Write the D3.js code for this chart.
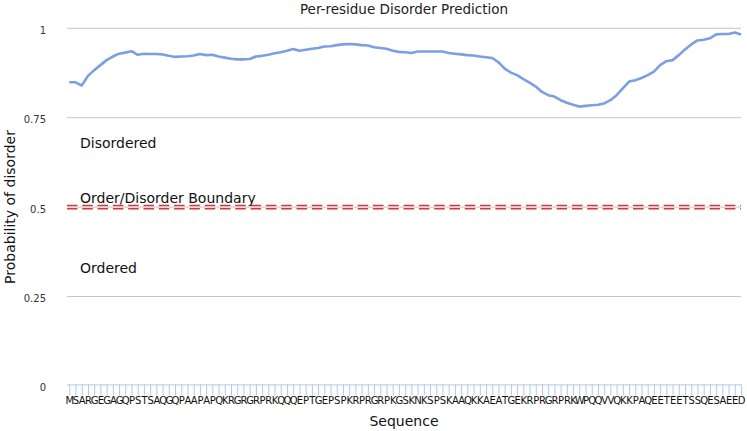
<!DOCTYPE html>
<html>
<head>
<meta charset="utf-8">
<script src="https://cdn.jsdelivr.net/npm/d3@7"></script>
<style>
  html, body { margin: 0; padding: 0; background: #fff; }
  svg { display: block; font-family: "DejaVu Sans", sans-serif; }
</style>
</head>
<body>
<svg id="chart" width="747" height="431"></svg>
<script>
const sequence = "MSARGEGAGQPSTSAQGQPAAPAPQKRGRGRPRKQQQEPTGEPSPKRPRGRPKGSKNKSPSKAAQKKAEATGEKRPRGRPRKWPQQVVQKKPAQEETEETSSQESAEED".split("");
const disorder = [
  0.849, 0.849, 0.840, 0.867, 0.883, 0.897, 0.911, 0.921, 0.929, 0.932,
  0.936, 0.926, 0.929, 0.928, 0.928, 0.927, 0.923, 0.920, 0.921, 0.922,
  0.924, 0.928, 0.925, 0.926, 0.921, 0.918, 0.915, 0.913, 0.913, 0.914,
  0.921, 0.923, 0.926, 0.930, 0.933, 0.937, 0.942, 0.937, 0.940, 0.943,
  0.945, 0.949, 0.950, 0.953, 0.955, 0.956, 0.955, 0.953, 0.952, 0.947,
  0.945, 0.943, 0.937, 0.934, 0.933, 0.931, 0.935, 0.935, 0.935, 0.935,
  0.935, 0.931, 0.929, 0.927, 0.925, 0.924, 0.921, 0.919, 0.917, 0.905,
  0.887, 0.876, 0.869, 0.858, 0.848, 0.837, 0.822, 0.813, 0.809, 0.799,
  0.792, 0.786, 0.781, 0.783, 0.785, 0.786, 0.790, 0.799, 0.813, 0.832,
  0.851, 0.855, 0.861, 0.869, 0.879, 0.897, 0.908, 0.911, 0.925, 0.941,
  0.955, 0.966, 0.968, 0.972, 0.983, 0.984, 0.984, 0.988, 0.983
];
const yTicks = [0, 0.25, 0.5, 0.75, 1];
const yTickLabels = ["0", "0.25", "0.5", "0.75", "1"];
const gridValues = [0.25, 0.5, 0.75, 1];
const boundary = 0.5;
const regionLabels = [
  { text: "Disordered", value: 0.665 },
  { text: "Order/Disorder Boundary", value: 0.512 },
  { text: "Ordered", value: 0.316 }
];

const svg = d3.select("#chart");
const plotLeft = 67, plotRight = 741, plotTop = 28.3, plotBottom = 385.9;

const x = d3.scalePoint()
  .domain(d3.range(sequence.length))
  .range([69.3, 741]);
const y = d3.scaleLinear().domain([0, 1]).range([plotBottom, plotTop]);

// Title
svg.append("text")
  .attr("x", 404).attr("y", 14)
  .attr("text-anchor", "middle")
  .attr("font-size", 13.5).attr("fill", "#222")
  .text("Per-residue Disorder Prediction");

// Gridlines
svg.append("g").selectAll("line")
  .data(gridValues).join("line")
  .attr("x1", plotLeft).attr("x2", plotRight)
  .attr("y1", d => y(d)).attr("y2", d => y(d))
  .attr("stroke", "#c4c4c4").attr("stroke-width", 1);

// Boundary double dashed red line
[-1.6, 1.6].forEach(off => {
  svg.append("line")
    .attr("x1", plotLeft).attr("x2", plotRight)
    .attr("y1", y(boundary) + off).attr("y2", y(boundary) + off)
    .attr("stroke", "#d9363a").attr("stroke-width", 1.6)
    .attr("stroke-dasharray", "10.5,4.8");
});

// Y tick labels
svg.append("g").selectAll("text")
  .data(yTicks).join("text")
  .attr("x", 46).attr("y", d => y(d))
  .attr("dy", "0.55em")
  .attr("text-anchor", "end")
  .attr("font-size", 10).attr("fill", "#333")
  .text((d, i) => yTickLabels[i]);

// Region labels
svg.append("g").selectAll("text")
  .data(regionLabels).join("text")
  .attr("x", 80).attr("y", d => y(d.value))
  .attr("font-size", 14).attr("fill", "#111")
  .text(d => d.text);

// X axis
const xAxis = d3.axisBottom(x)
  .tickSize(11)
  .tickPadding(2)
  .tickFormat(i => sequence[i]);
const gx = svg.append("g")
  .attr("transform", `translate(0,${plotBottom - 1.5})`)
  .call(xAxis);
gx.select(".domain")
  .attr("d", `M${plotLeft},0.5H${plotRight}`)
  .attr("stroke", "#b7c7e6");
gx.selectAll(".tick line").attr("stroke", "#b7c7e6");
gx.selectAll(".tick text")
  .attr("font-size", 10)
  .attr("font-family", "DejaVu Sans, sans-serif")
  .attr("fill", "#111");

// Line
const line = d3.line()
  .x((d, i) => x(i))
  .y(d => y(d));
svg.append("path")
  .datum(disorder)
  .attr("d", line)
  .attr("fill", "none")
  .attr("stroke", "#7c9ee3")
  .attr("stroke-width", 2.6)
  .attr("stroke-linejoin", "round");

// Axis titles
svg.append("text")
  .attr("x", 404).attr("y", 426)
  .attr("text-anchor", "middle")
  .attr("font-size", 14).attr("fill", "#111")
  .text("Sequence");
svg.append("text")
  .attr("transform", "translate(15,207) rotate(-90)")
  .attr("text-anchor", "middle")
  .attr("font-size", 14).attr("fill", "#111")
  .text("Probability of disorder");
</script>
</body>
</html>
